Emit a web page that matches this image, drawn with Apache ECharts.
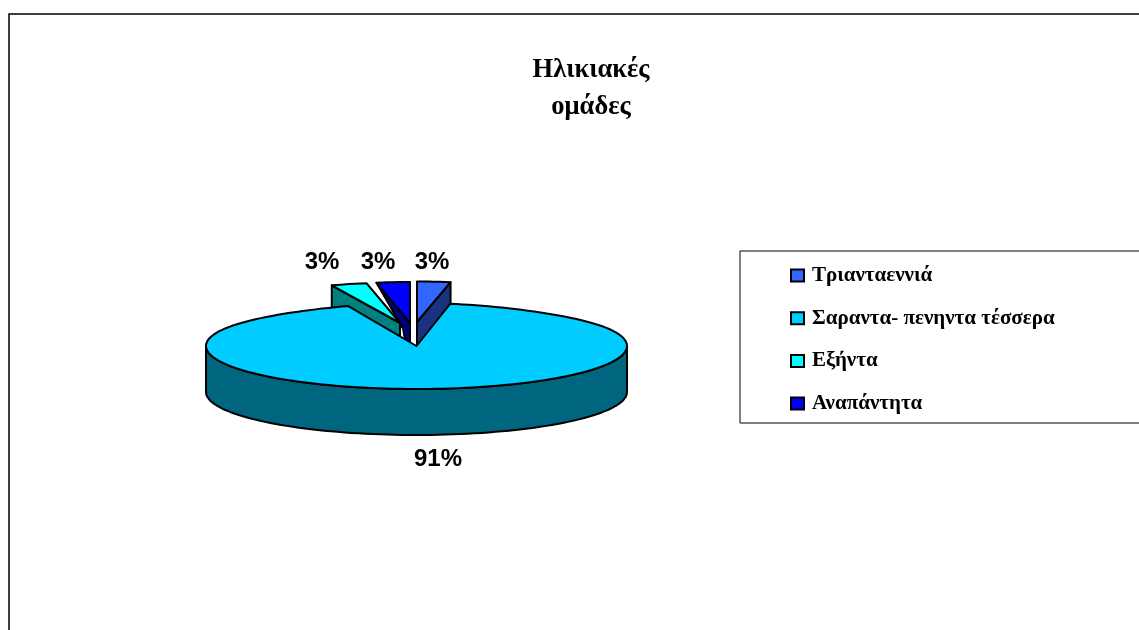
<!DOCTYPE html>
<html>
<head>
<meta charset="utf-8">
<title>Ηλικιακές ομάδες</title>
<style>
html,body{margin:0;padding:0;background:#fff;}
#chart{width:1139px;height:630px;}
</style>
<script src="https://cdn.jsdelivr.net/npm/echarts@6/dist/echarts.min.js"></script>
</head>
<body>
<div id="chart"></div>
<script>
var titleText = 'Ηλικιακές\nομάδες';
var categories = ['Τριανταεννιά', 'Σαραντα- πενηντα τέσσερα', 'Εξήντα', 'Αναπάντητα'];
var percents = [3, 91, 3, 3];

var topColors = ['#3366ff', '#00ccff', '#00ffff', '#0000ff'];
var wallColors = ['#1a3380', '#006680', '#008080', '#000080'];

// pie geometry, the picture is a tilted pie so everything goes through pt()
var CX = 416.5, CY = 346, RX = 210.5, DEPTH = 46, PERSPECTIVE = 0.16;
// per slice: apex offset from the centre + vertical radius
var explode = [[0.5, -24, 40.5], [0, 0, 43], [-16.5, -23, 40.5], [-6.5, -23, 41]];
var wallLean = [0, 0, 0, 0.58];
var labelPos = [[432, 262], [438, 459], [322, 262], [378, 262]];
// back slices first, the big slice has to cover their walls
var drawOrder = [0, 3, 2, 1];

var total = percents.reduce(function (a, b) { return a + b; }, 0);

function sliceAngles(i) {
    var start = 0;
    for (var k = 0; k < i; k++) {
        start += percents[k] / total * 360;
    }
    return [start, start + percents[i] / total * 360];
}

function pt(deg, off) {
    var t = deg * Math.PI / 180;
    var c = Math.cos(t);
    // far side of the pie is a bit narrower
    var squeeze = c > 0 ? 1 - PERSPECTIVE * Math.pow(c, 4) : 1;
    return [
        CX + off[0] + RX * Math.sin(t) * squeeze,
        CY + off[1] - off[2] * c
    ];
}

function arc(from, to, off) {
    var out = [];
    var n = Math.max(2, Math.ceil(Math.abs(to - from) / 2));
    for (var k = 0; k <= n; k++) {
        out.push(pt(from + (to - from) * k / n, off));
    }
    return out;
}

function poly(points, fill) {
    return {
        type: 'polygon',
        shape: { points: points },
        style: { fill: fill, stroke: '#000', lineWidth: 2, lineJoin: 'round' }
    };
}

function renderSlice(i) {
    var a = sliceAngles(i), off = explode[i];
    var apex = [CX + off[0], CY + off[1]];
    var kids = [];
    if (i === 1) {
        // front wall of the big slice
        var front = arc(90, 270, off);
        var low = front.map(function (p) { return [p[0], p[1] + DEPTH]; }).reverse();
        kids.push(poly(front.concat(low), wallColors[i]));
    } else {
        // radial face, right side for the first slice and left side for the others
        var outer = i === 0 ? pt(a[1], off) : pt(a[0], off);
        kids.push(poly([
            outer,
            apex,
            [apex[0], apex[1] + DEPTH],
            [outer[0] + wallLean[i] * DEPTH, outer[1] + DEPTH]
        ], wallColors[i]));
    }
    kids.push(poly([apex].concat(arc(a[0], a[1], off)), topColors[i]));
    kids.push({
        type: 'text',
        style: {
            text: percents[i] + '%',
            x: labelPos[i][0],
            y: labelPos[i][1],
            align: 'center',
            verticalAlign: 'middle',
            fill: '#000',
            font: 'bold 24px "Liberation Sans", Arial, sans-serif'
        }
    });
    return { type: 'group', children: kids };
}

var myChart = echarts.init(document.getElementById('chart'), null, { renderer: 'canvas' });

myChart.setOption({
    animation: false,
    backgroundColor: '#fff',
    title: {
        text: titleText,
        left: 586,
        top: 47,
        textAlign: 'center',
        textStyle: {
            fontFamily: '"Liberation Serif", serif',
            fontSize: 26.5,
            fontWeight: 'bold',
            lineHeight: 37,
            color: '#000'
        }
    },
    legend: {
        orient: 'vertical',
        left: 790,
        top: 265,
        padding: 0,
        itemWidth: 13,
        itemHeight: 12,
        itemGap: 21.7,
        icon: 'rect',
        selectedMode: false,
        data: categories,
        textStyle: {
            fontFamily: '"Liberation Serif", serif',
            fontSize: 21,
            fontWeight: 'bold',
            color: '#000',
            padding: [0, 0, 0, 3],
            lineHeight: 19
        }
    },
    graphic: [
        {
            // outer frame, runs off the right and bottom of the picture
            type: 'rect',
            z: -1,
            shape: { x: 9, y: 14, width: 1200, height: 700 },
            style: { fill: '#fff', stroke: '#000', lineWidth: 1.5 }
        },
        {
            // legend box, cut by the right edge too
            type: 'rect',
            z: 0,
            shape: { x: 740, y: 251, width: 420, height: 172 },
            style: { fill: 'none', stroke: '#000', lineWidth: 1 }
        }
    ],
    series: drawOrder.map(function (i) {
        return {
            type: 'custom',
            name: categories[i],
            coordinateSystem: 'none',
            silent: true,
            itemStyle: { color: topColors[i], borderColor: '#000', borderWidth: 1.5 },
            data: [percents[i]],
            renderItem: function () {
                return renderSlice(i);
            }
        };
    })
});
</script>
</body>
</html>
